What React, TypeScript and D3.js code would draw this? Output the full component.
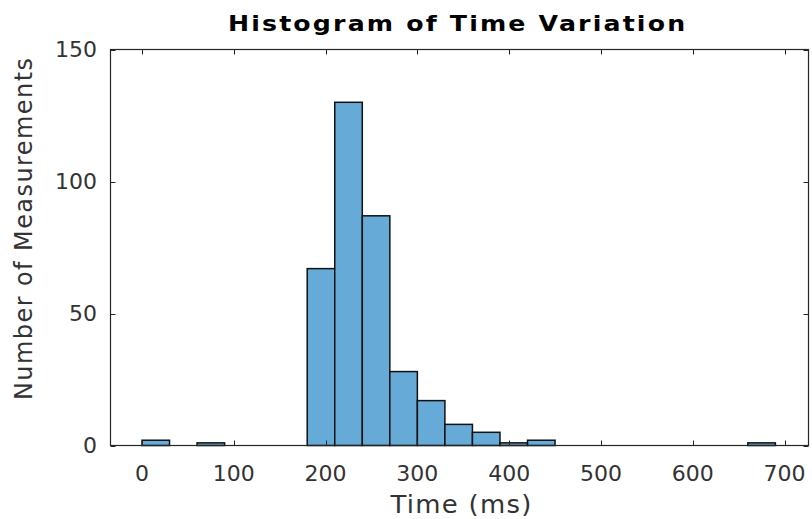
import React from "react";
import * as d3 from "d3";

const binEdgesStart = [0, 30, 60, 90, 120, 150, 180, 210, 240, 270, 300, 330, 360, 390, 420, 450, 480, 510, 540, 570, 600, 630, 660, 690];
const binWidth = 30;
const counts = [2, 0, 1, 0, 0, 0, 67, 130, 87, 28, 17, 8, 5, 1, 2, 0, 0, 0, 0, 0, 0, 0, 1, 0];
const xTicks = [0, 100, 200, 300, 400, 500, 600, 700];
const yTicks = [0, 50, 100, 150];
const title = "Histogram of Time Variation";
const xLabel = "Time (ms)";
const yLabel = "Number of Measurements";

const W = 812;
const H = 519;
const L = 110.5;
const R = 808.5;
const T = 49.5;
const B = 445.5;

export default function App() {
  const x = d3.scaleLinear().domain([-34.3, 726.1]).range([L, R]);
  const y = d3.scaleLinear().domain([0, 150]).range([B, T]);
  const font = "DejaVu Sans, sans-serif";
  const axisColor = "#262626";
  const tickColor = "#333";
  const bins = binEdgesStart.map((s, i) => ({ x0: s, x1: s + binWidth, c: counts[i] })).filter((b) => b.c > 0);
  return (
    <svg width={W} height={H} style={{ position: "absolute", left: 0, top: 0, background: "#fff" }}>
      <rect x={0} y={0} width={W} height={H} fill="#fff" />
      <g>
        {bins.map((b, i) => (
          <rect
            key={i}
            x={x(b.x0)}
            y={y(b.c)}
            width={x(b.x1) - x(b.x0)}
            height={y(0) - y(b.c)}
            fill="#66aad7"
            stroke="#111"
            strokeWidth={1.5}
          />
        ))}
      </g>
      <rect x={L} y={T} width={R - L} height={B - T} fill="none" stroke={axisColor} strokeWidth={1.2} />
      {xTicks.map((t) => (
        <g key={"x" + t}>
          <line x1={Math.round(x(t)) + 0.5} x2={Math.round(x(t)) + 0.5} y1={B} y2={B - 5} stroke={axisColor} />
          <line x1={Math.round(x(t)) + 0.5} x2={Math.round(x(t)) + 0.5} y1={T} y2={T + 5} stroke={axisColor} />
          <text x={x(t)} y={481} textAnchor="middle" fontFamily={font} fontSize={22} fill={tickColor}>
            {t}
          </text>
        </g>
      ))}
      {yTicks.map((t) => (
        <g key={"y" + t}>
          <line x1={L} x2={L + 5} y1={Math.round(y(t)) + 0.5} y2={Math.round(y(t)) + 0.5} stroke={axisColor} />
          <line x1={R} x2={R - 5} y1={Math.round(y(t)) + 0.5} y2={Math.round(y(t)) + 0.5} stroke={axisColor} />
          <text x={97} y={y(t)} dy="0.36em" textAnchor="end" fontFamily={font} fontSize={22} fill={tickColor}>
            {t}
          </text>
        </g>
      ))}
      <text
        transform="translate(456.5, 30.5) scale(1.2, 1)"
        textAnchor="middle"
        fontFamily={font}
        fontSize={21}
        fontWeight="bold"
        fill="#000"
        textLength={381}
        lengthAdjust="spacing"
      >
        {title}
      </text>
      <text
        transform="translate(461, 512.5) scale(1.08, 1)"
        textAnchor="middle"
        fontFamily={font}
        fontSize={24}
        fill={tickColor}
        textLength={130.5}
        lengthAdjust="spacing"
      >
        {xLabel}
      </text>
      <text
        transform={`translate(32, 229) rotate(-90)`}
        textAnchor="middle"
        fontFamily={font}
        fontSize={24}
        fill={tickColor}
        textLength={342}
        lengthAdjust="spacing"
      >
        {yLabel}
      </text>
    </svg>
  );
}
